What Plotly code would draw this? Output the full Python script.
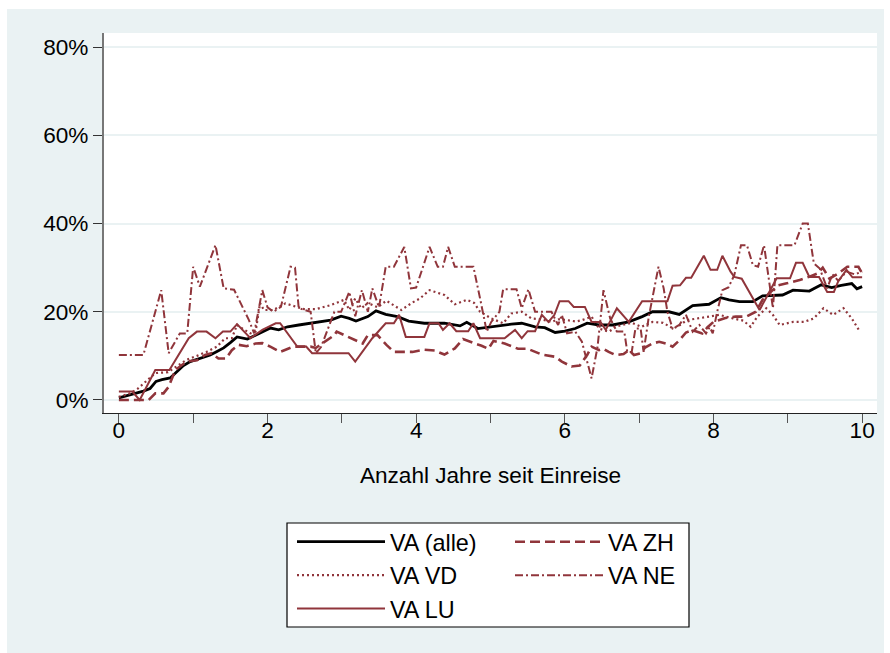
import plotly.graph_objects as go

# ---- data (years since entry, share in %) ----
x_alle = [0, 0.17, 0.33, 0.42, 0.5, 0.58, 0.69, 0.78, 0.87, 0.96, 1.1, 1.23, 1.32, 1.41, 1.5, 1.59, 1.73, 1.85, 1.95,
          2.04, 2.15, 2.27, 2.42, 2.58, 2.72, 2.85, 2.99, 3.1, 3.19, 3.35, 3.46, 3.59, 3.75, 3.9, 4.11, 4.38, 4.59,
          4.68, 4.83, 5.01, 5.15, 5.28, 5.42, 5.6, 5.73, 5.87, 6.0, 6.14, 6.3, 6.46, 6.64, 6.86, 7.04, 7.18, 7.4,
          7.54, 7.72, 7.94, 8.1, 8.21, 8.35, 8.53, 8.66, 8.93, 9.07, 9.29, 9.45, 9.59, 9.72, 9.86, 9.93, 10.0]
y_alle = [0.5, 1.3, 2.0, 2.6, 4.2, 4.6, 5.0, 6.4, 7.8, 8.7, 9.4, 10.2, 11.0, 11.8, 13.0, 14.3, 13.8, 14.8, 15.6,
          16.3, 15.9, 16.6, 17.0, 17.4, 17.7, 18.1, 19.0, 18.5, 17.9, 18.9, 20.2, 19.4, 18.9, 17.9, 17.4, 17.4, 16.8,
          17.6, 16.2, 16.6, 17.0, 17.2, 17.4, 16.6, 16.4, 15.3, 15.6, 16.2, 17.4, 17.0, 17.0, 17.7, 18.9, 20.0, 20.0,
          19.4, 21.4, 21.7, 23.2, 22.7, 22.3, 22.3, 23.6, 23.8, 24.9, 24.7, 26.1, 25.5, 26.0, 26.4, 25.2, 25.7]

x_zh = [0, 0.4, 0.49, 0.6, 0.67, 0.76, 0.91, 1.05, 1.16, 1.25, 1.34, 1.44, 1.52, 1.61, 1.72, 1.84, 1.93, 2.05, 2.17,
        2.35, 2.58, 2.65, 2.75, 2.9, 2.93, 3.1, 3.28, 3.35, 3.48, 3.6, 3.7, 3.95, 4.11, 4.25, 4.38, 4.52, 4.63, 4.79,
        4.88, 4.97, 5.04, 5.19, 5.37, 5.5, 5.69, 5.87, 5.96, 6.09, 6.2, 6.3, 6.36, 6.46, 6.52, 6.59, 6.68, 6.79, 6.86,
        6.93, 7.02, 7.08, 7.18, 7.27, 7.36, 7.45, 7.54, 7.63, 7.72, 7.85, 7.92, 8.0, 8.16, 8.3, 8.44, 8.57, 8.66,
        8.75, 8.87, 9.0, 9.16, 9.3, 9.4, 9.47, 9.56, 9.68, 9.8, 9.95, 10.0]
y_zh = [0, 0, 1.5, 1.5, 3.0, 6.8, 8.7, 9.0, 10.2, 10.6, 9.4, 9.4, 11.3, 12.5, 12.2, 12.8, 12.9, 12.0, 10.9,
        12.1, 12.1, 11.8, 13.0, 14.7, 15.5, 14.2, 12.8, 14.7, 14.7, 12.5, 10.9, 10.9, 11.4, 11.2, 10.3, 11.7, 13.8, 12.8,
        12.3, 11.6, 13.4, 12.8, 11.6, 11.6, 10.3, 9.8, 8.7, 7.6, 7.8, 10.2, 12.1, 11.3, 11.6, 10.9, 10.2, 10.4, 11.3,
        10.2, 10.6, 11.9, 12.8, 13.2, 12.8, 12.1, 13.5, 15.3, 15.8, 15.1, 16.5, 17.7, 18.6, 18.9, 18.9, 20.0, 22.7,
        24.2, 26.0, 26.5, 27.2, 28.0, 28.7, 30.0, 27.5, 28.7, 30.2, 30.2, 28.7]

x_vd = [0, 0.15, 0.25, 0.37, 0.49, 0.66, 0.78, 0.91, 1.05, 1.18, 1.32, 1.43, 1.52, 1.59, 1.68, 1.77, 1.84, 1.9, 1.95,
        2.08, 2.24, 2.35, 2.49, 2.65, 2.85, 3.03, 3.1, 3.18, 3.26, 3.35, 3.48, 3.6, 3.8, 3.95, 4.05, 4.18, 4.38, 4.52,
        4.68, 4.78, 4.86, 5.01, 5.17, 5.28, 5.42, 5.55, 5.68, 5.82, 5.92, 6.03, 6.15, 6.23, 6.36, 6.46, 6.59, 6.72,
        6.9, 7.03, 7.18, 7.32, 7.46, 7.55, 7.64, 7.94, 8.08, 8.26, 8.4, 8.5, 8.59, 8.71, 8.8, 8.89, 9.07, 9.22, 9.35,
        9.48, 9.61, 9.75, 9.86, 9.97]
y_vd = [0.7, 1.5, 2.5, 4.2, 6.1, 6.3, 7.6, 9.1, 10.0, 10.9, 12.1, 14.0, 14.0, 17.0, 16.0, 15.1, 15.5, 22.0, 20.4,
        20.4, 21.9, 21.3, 20.6, 20.6, 21.5, 22.7, 20.4, 23.0, 20.8, 22.0, 21.0, 22.5, 20.4, 22.1, 23.0, 24.9, 23.8, 21.7,
        22.7, 22.0, 20.0, 18.5, 17.4, 19.6, 20.0, 18.5, 18.3, 17.7, 18.3, 18.1, 17.8, 18.1, 18.9, 16.2, 15.5, 16.8,
        17.5, 16.6, 17.7, 17.5, 16.2, 17.0, 18.1, 18.9, 19.3, 18.5, 18.0, 16.6, 18.9, 20.8, 19.3, 17.0, 17.7, 17.7, 18.5,
        20.8, 19.3, 20.8, 18.5, 15.5]

x_ne = [0, 0.33, 0.57, 0.67, 0.82, 0.92, 1.0, 1.09, 1.3, 1.41, 1.55, 1.75, 1.82, 1.93, 2.0, 2.08, 2.18, 2.31, 2.37,
        2.42, 2.58, 2.65, 2.72, 2.9, 2.99, 3.1, 3.18, 3.27, 3.35, 3.41, 3.5, 3.59, 3.7, 3.84, 3.93, 4.0, 4.18, 4.29,
        4.36, 4.43, 4.52, 4.77, 4.86, 4.9, 4.95, 5.01, 5.12, 5.17, 5.35, 5.42, 5.51, 5.6, 5.82, 5.91, 5.96, 6.03,
        6.14, 6.23, 6.36, 6.44, 6.52, 6.61, 6.7, 6.8, 6.84, 6.9, 6.95, 7.02, 7.06, 7.13, 7.26, 7.33, 7.38, 7.45,
        7.54, 7.63, 7.72, 7.81, 7.9, 7.95, 7.99, 8.05, 8.12, 8.2, 8.28, 8.37, 8.45, 8.53, 8.6, 8.68, 8.75, 8.8,
        8.86, 9.09, 9.2, 9.27, 9.35, 9.43, 9.53, 9.6, 9.68, 9.79, 9.9, 10.0]
y_ne = [10.2, 10.2, 24.9, 10.6, 15.1, 15.1, 30.2, 25.7, 35.1, 25.3, 25.0, 18.1, 15.1, 24.9, 21.0, 20.0, 21.1, 30.2, 30.0,
        20.8, 20.0, 10.6, 12.0, 20.0, 20.0, 24.5, 19.0, 24.9, 20.0, 25.3, 21.0, 30.2, 30.2, 34.7, 25.3, 25.5, 34.7, 30.2,
        30.2, 34.7, 30.2, 30.2, 23.0, 19.3, 15.5, 17.7, 20.0, 25.1, 25.1, 20.8, 25.1, 20.0, 20.0, 17.0, 19.3, 15.1,
        15.5, 13.2, 4.9, 12.0, 24.9, 18.5, 15.5, 15.5, 10.9, 10.9, 16.2, 16.2, 10.9, 18.9, 30.2, 25.3, 20.0, 16.2,
        17.0, 19.3, 15.5, 17.0, 15.1, 16.5, 15.1, 20.0, 24.9, 25.5, 28.3, 35.1, 35.1, 30.6, 30.2, 35.1, 26.8, 20.8,
        35.1, 35.1, 40.0, 40.0, 31.0, 29.8, 25.3, 28.5, 27.0, 29.1, 28.5, 29.1]

x_lu = [0, 0.18, 0.28, 0.49, 0.68, 0.94, 1.05, 1.18, 1.3, 1.4, 1.5, 1.59, 1.77, 1.93, 2.11, 2.17, 2.4, 2.52, 2.6,
        3.09, 3.18, 3.41, 3.59, 3.7, 3.77, 3.86, 4.11, 4.18, 4.3, 4.36, 4.45, 4.54, 4.7, 4.77, 4.86, 5.19, 5.33,
        5.42, 5.5, 5.6, 5.69, 5.78, 5.86, 5.93, 6.05, 6.12, 6.27, 6.36, 6.48, 6.55, 6.7, 6.86, 7.04, 7.38, 7.45,
        7.55, 7.63, 7.7, 7.87, 7.96, 8.05, 8.12, 8.23, 8.28, 8.38, 8.5, 8.62, 8.72, 8.85, 9.03, 9.11, 9.2, 9.29,
        9.42, 9.53, 9.62, 9.68, 9.79, 9.87, 10.0]
y_lu = [1.9, 1.9, 0, 6.8, 6.8, 14.0, 15.5, 15.5, 14.0, 15.5, 15.5, 17.2, 14.0, 15.9, 17.4, 17.4, 12.1, 12.1, 10.6,
        10.6, 8.7, 14.0, 17.4, 17.4, 19.3, 14.3, 14.3, 17.4, 17.4, 15.9, 17.4, 15.6, 15.6, 17.4, 14.0, 14.0, 15.9,
        14.0, 15.6, 15.6, 19.3, 17.7, 19.3, 22.4, 22.4, 21.1, 21.1, 17.7, 17.7, 15.9, 20.8, 17.7, 22.4, 22.4, 25.9,
        26.0, 27.7, 27.7, 32.7, 29.5, 29.5, 32.7, 29.1, 27.9, 27.5, 23.8, 20.4, 23.5, 27.6, 27.6, 31.1, 31.1, 27.9,
        27.9, 24.5, 24.5, 27.0, 29.5, 27.8, 27.8]

series_names = ["VA (alle)", "VA ZH", "VA VD", "VA NE", "VA LU"]
x_tick_vals = [0, 1, 2, 3, 4, 5, 6, 7, 8, 9, 10]
x_tick_text = ["0", "", "2", "", "4", "", "6", "", "8", "", "10"]
y_tick_vals = [0, 20, 40, 60, 80]
y_tick_text = ["0%", "20%", "40%", "60%", "80%"]

# ---- styling ----
MAROON = "#90353B"
BG = "#EAF2F3"
FONT = "Liberation Sans, Arial, sans-serif"
FS = 22.6
FS_LEG = 23.4

styles = [
    dict(color="black", width=2.8, dash="solid"),
    dict(color=MAROON, width=2.6, dash="10px,5px"),
    dict(color=MAROON, width=2.2, dash="2px,3px"),
    dict(color=MAROON, width=2.0, dash="8px,3px,2px,3px"),
    dict(color=MAROON, width=2.0, dash="solid"),
]
legend_cols = ["legend", "legend2", "legend", "legend2", "legend"]
xs = [x_alle, x_zh, x_vd, x_ne, x_lu]
ys = [y_alle, y_zh, y_vd, y_ne, y_lu]

fig = go.Figure()
for name, xv, yv, st, lg in zip(series_names, xs, ys, styles, legend_cols):
    fig.add_trace(go.Scatter(x=xv, y=yv, mode="lines", name=name, line=st, legend=lg))

W, H = 890, 653
L, R, T, B = 104, 13, 33, 240
pw, ph = W - L - R, H - T - B

def px_x(p):
    return (p - L) / pw

def px_y(p):
    return (H - B - p) / ph

legend_common = dict(
    orientation="v", xanchor="left", yanchor="top",
    bgcolor="rgba(0,0,0,0)", borderwidth=0,
    font=dict(size=FS_LEG), itemwidth=88, traceorder="normal",
)

fig.update_layout(
    width=W, height=H,
    margin=dict(l=L, r=R, t=T, b=B, pad=0),
    paper_bgcolor="white", plot_bgcolor="white",
    font=dict(family=FONT, size=FS, color="black"),
    showlegend=True,
    legend=dict(x=px_x(292), y=px_y(520), **legend_common),
    legend2=dict(x=px_x(510), y=px_y(520), **legend_common),
    shapes=[
        dict(type="rect", xref="paper", yref="paper", x0=px_x(7), x1=px_x(884), y0=px_y(660), y1=px_y(9),
             fillcolor=BG, line=dict(width=0), layer="below"),
        dict(type="rect", xref="paper", yref="paper", x0=0, x1=1, y0=0, y1=1,
             fillcolor="white", line=dict(width=0), layer="below"),
        dict(type="rect", xref="paper", yref="paper", x0=px_x(287), x1=px_x(689), y0=px_y(627), y1=px_y(523),
             fillcolor="white", line=dict(width=1.2, color="black"), layer="below"),
    ],
)

fig.update_xaxes(
    range=[-0.2, 10.2], tickvals=x_tick_vals, ticktext=x_tick_text,
    ticks="outside", ticklen=9, tickcolor="#555", tickwidth=1.3, ticklabelstandoff=-12,
    showline=True, linecolor="#222", linewidth=1.3, showgrid=False, zeroline=False,
    title=dict(text="Anzahl Jahre seit Einreise", standoff=24, font=dict(size=FS)),
    tickfont=dict(size=FS),
)
fig.update_yaxes(
    range=[-2.95, 83.2], tickvals=y_tick_vals, ticktext=y_tick_text,
    ticks="outside", ticklen=9, tickcolor="#333", tickwidth=1.3,
    showline=True, linecolor="#777", linewidth=2, showgrid=True, gridcolor=BG, gridwidth=2,
    zeroline=False, tickfont=dict(size=FS),
)

fig.write_html("out.html")
